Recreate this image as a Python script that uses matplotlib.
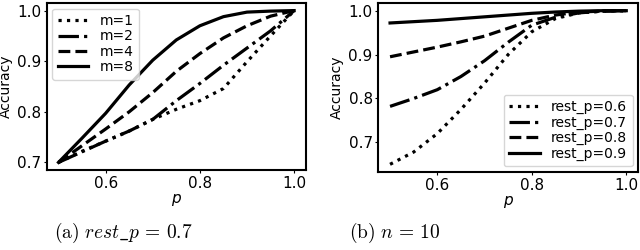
import numpy as np
import matplotlib
matplotlib.use("Agg")
import matplotlib.pyplot as plt

plt.rcParams['mathtext.fontset'] = 'cm'

# probabilidad p comun a las dos figuras
p = [0.5, 0.55, 0.6, 0.65, 0.7, 0.75, 0.8, 0.85, 0.9, 0.95, 1.0]

# (a) rest_p = 0.7, varias m
etiquetas_m = ['m=1', 'm=2', 'm=4', 'm=8']
acc_m1 = [0.700, 0.722, 0.742, 0.762, 0.785, 0.805, 0.822, 0.846, 0.899, 0.950, 1.000]
acc_m2 = [0.700, 0.721, 0.742, 0.762, 0.785, 0.822, 0.856, 0.892, 0.926, 0.960, 1.000]
acc_m4 = [0.700, 0.733, 0.766, 0.800, 0.838, 0.880, 0.915, 0.946, 0.970, 0.989, 1.000]
acc_m8 = [0.700, 0.748, 0.797, 0.853, 0.902, 0.942, 0.970, 0.988, 0.997, 0.999, 1.000]

# (b) n = 10, varias rest_p
etiquetas_r = ['rest_p=0.6', 'rest_p=0.7', 'rest_p=0.8', 'rest_p=0.9']
acc_r6 = [0.650, 0.678, 0.720, 0.775, 0.835, 0.900, 0.952, 0.982, 0.995, 0.999, 1.000]
acc_r7 = [0.782, 0.800, 0.820, 0.850, 0.886, 0.928, 0.967, 0.985, 0.995, 0.999, 1.000]
acc_r8 = [0.895, 0.906, 0.917, 0.929, 0.942, 0.960, 0.978, 0.990, 0.997, 0.999, 1.000]
acc_r9 = [0.972, 0.975, 0.978, 0.982, 0.986, 0.990, 0.994, 0.997, 0.999, 1.000, 1.000]

estilos = [':', '-.', '--', '-']
grosor = 2.3
tam = 10

fig = plt.figure(figsize=(6.4, 2.5), dpi=100)
ax1 = fig.add_axes([0.073, 0.32, 0.405, 0.668])
ax2 = fig.add_axes([0.591, 0.312, 0.406, 0.676])

for serie, est, lab in zip([acc_m1, acc_m2, acc_m4, acc_m8], estilos, etiquetas_m):
    ax1.plot(p, serie, color='black', linestyle=est, linewidth=grosor, label=lab)
ax1.legend(loc='upper left', fontsize=tam, labelspacing=0.1, handlelength=2.2,
           borderaxespad=0.4)
ax1.set_yticks([0.7, 0.8, 0.9, 1.0])

for serie, est, lab in zip([acc_r6, acc_r7, acc_r8, acc_r9], estilos, etiquetas_r):
    ax2.plot(p, serie, color='black', linestyle=est, linewidth=grosor, label=lab)
ax2.legend(loc='lower right', fontsize=tam, labelspacing=0.1, handlelength=2.2,
           borderaxespad=0.4)
ax2.set_yticks([0.7, 0.8, 0.9, 1.0])

for ax in (ax1, ax2):
    ax.set_xticks([0.6, 0.8, 1.0])
    ax.tick_params(labelsize=11, length=2.5, pad=1.5)
    ax.set_xlabel('p', fontsize=11, fontstyle='italic', labelpad=0)
    ax.set_ylabel('Accuracy', fontsize=tam, labelpad=3)
    for s in ax.spines.values():
        s.set_linewidth(1.5)

# subtitulos
fig.text(0.192, 0.068, r'$\mathrm{(a)}\ rest\_p\,=\,0.7$', fontsize=14, ha='center', va='center')
fig.text(0.617, 0.068, r'$\mathrm{(b)}\ n\,=\,10$', fontsize=14, ha='center', va='center')

fig.savefig('out.png', dpi=100)
